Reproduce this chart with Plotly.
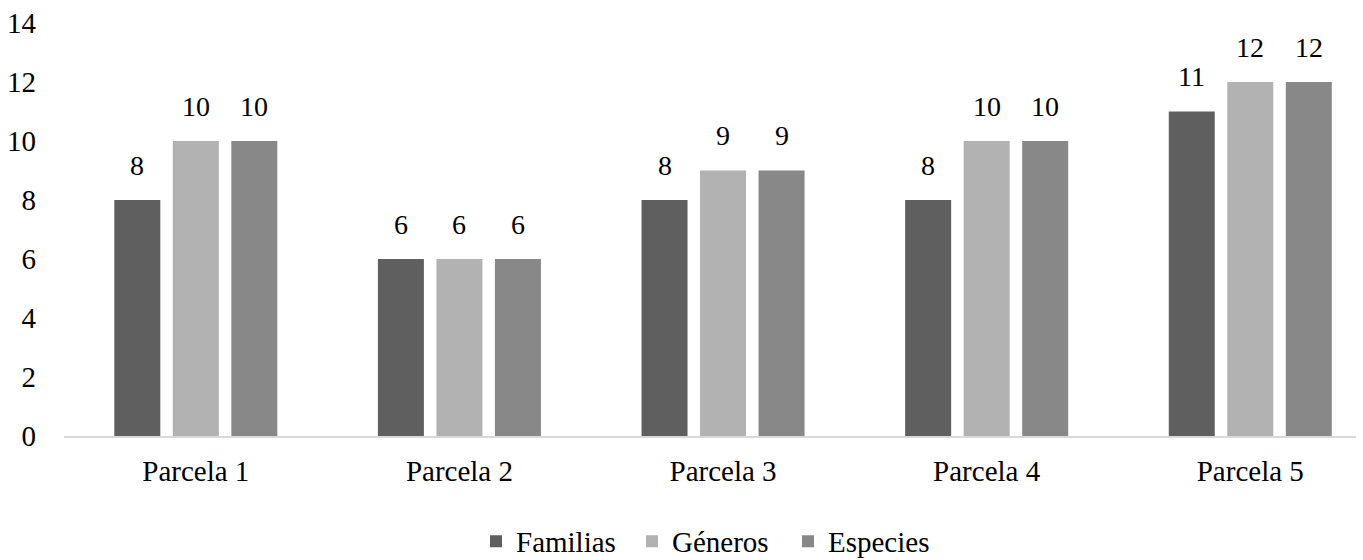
import plotly.graph_objects as go

# Number of taxa per plot
parcelas = ["Parcela 1", "Parcela 2", "Parcela 3", "Parcela 4", "Parcela 5"]
familias = [8, 6, 8, 8, 11]
generos = [10, 6, 9, 10, 12]
especies = [10, 6, 9, 10, 12]

series = [
    ("Familias", familias, "#5f5f5f"),
    ("Géneros", generos, "#b2b2b2"),
    ("Especies", especies, "#888888"),
]

y_ticks = [0, 2, 4, 6, 8, 10, 12, 14]

FONT = "Liberation Serif"
BARGAP = 0.334
GROUPGAP = 0.214

fig = go.Figure()
for name, vals, color in series:
    fig.add_trace(go.Bar(
        x=parcelas, y=vals, name=name,
        marker=dict(color=color, line=dict(width=0)),
    ))

# value labels above each bar, placed on the grouped-bar offsets
n = len(series)
slot = (1 - BARGAP) / n
for k, (name, vals, color) in enumerate(series):
    for i, v in enumerate(vals):
        fig.add_annotation(
            x=i + (k - (n - 1) / 2) * slot, y=v, xref="x", yref="y",
            text=str(v), showarrow=False, yanchor="middle", yshift=35,
            font=dict(family=FONT, size=28, color="#000000"),
        )

fig.update_layout(
    width=1363, height=560, autosize=False,
    margin=dict(l=64, r=7, t=23, b=124, autoexpand=False),
    paper_bgcolor="white", plot_bgcolor="white",
    barmode="group", bargap=BARGAP, bargroupgap=GROUPGAP,
    font=dict(family=FONT, size=28, color="#000000"),
    showlegend=True,
    legend=dict(
        orientation="h", x=0.5, xanchor="center", y=-0.255, yanchor="middle",
        font=dict(family=FONT, size=29, color="#000000"),
        traceorder="normal", itemclick=False, entrywidth=111,
    ),
)
fig.update_xaxes(
    type="category", range=[-0.5, 4.401],
    showline=True, linecolor="#d9d9d9", linewidth=2,
    showgrid=False, zeroline=False, ticks="",
    tickfont=dict(family=FONT, size=29, color="#000000"),
    ticklabelstandoff=8,
)
fig.update_yaxes(
    range=[0, 14], tickvals=y_ticks, ticktext=[str(t) for t in y_ticks],
    showline=False, showgrid=False, zeroline=False, ticks="",
    tickfont=dict(family=FONT, size=29, color="#000000"),
    ticklabelstandoff=27,
)

fig.write_html("out.html")
